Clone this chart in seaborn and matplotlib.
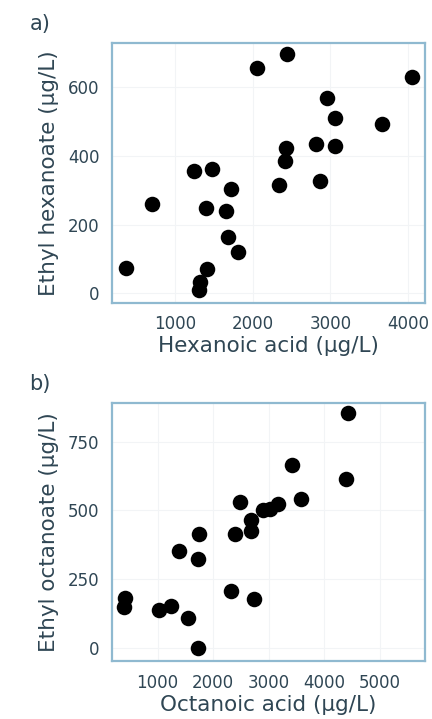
import numpy as np
import pandas as pd
import seaborn as sns
import matplotlib.pyplot as plt

# ---------------- DATA ----------------
hex_acid = [378, 700, 1249, 1481, 1395, 1408, 1330, 1315, 1725, 1657,
            1678, 1815, 2052, 2438, 2335, 2425, 2416, 2815, 2867, 2961,
            3060, 3060, 3670, 4047]
ethyl_hex = [73, 261, 356, 363, 249, 70, 31, 10, 303, 240,
             164, 120, 657, 698, 315, 424, 384, 434, 328, 568,
             512, 428, 493, 629]

oct_acid = [410, 405, 1024, 1251, 1551, 1719, 1383, 1749, 1719, 2317,
            2389, 2479, 2731, 2689, 2689, 2898, 3018, 3168, 3425, 3587,
            4395, 4425]
ethyl_oct = [181, 151, 137, 155, 109, 0, 354, 415, 324, 209,
             415, 532, 178, 466, 427, 502, 504, 522, 665, 541,
             614, 853]

hex_xticks = [1000, 2000, 3000, 4000]
hex_yticks = [0, 200, 400, 600]
oct_xticks = [1000, 2000, 3000, 4000, 5000]
oct_yticks = [0, 250, 500, 750]

df_a = pd.DataFrame({"x": hex_acid, "y": ethyl_hex})
df_b = pd.DataFrame({"x": oct_acid, "y": ethyl_oct})

# ---------------- STYLE ----------------
sns.set_style("white")
plt.rcParams['font.family'] = ['DejaVu Sans']
TEXT = "#2f4654"
SPINE = "#8fb9d0"

fig = plt.figure(figsize=(4.32, 7.19), dpi=100)
ax_a = fig.add_axes([0.259, 0.579, 0.725, 0.361])
ax_b = fig.add_axes([0.259, 0.080, 0.725, 0.360])

panels = [
    (ax_a, df_a, hex_xticks, hex_yticks, (190, 4220), (-28, 729),
     "Hexanoic acid (\u00b5g/L)", "Ethyl hexanoate (\u00b5g/L)", "a)", 0.966),
    (ax_b, df_b, oct_xticks, oct_yticks, (180, 5810), (-48, 891),
     "Octanoic acid (\u00b5g/L)", "Ethyl octanoate (\u00b5g/L)", "b)", 0.466),
]

for ax, d, xt, yt, xl, yl, xlab, ylab, tag, tag_y in panels:
    sns.scatterplot(data=d, x="x", y="y", ax=ax, color="black", s=125,
                    edgecolor="black", linewidth=0, legend=False, zorder=3)
    ax.set_xlim(*xl)
    ax.set_ylim(*yl)
    ax.set_xticks(xt)
    ax.set_yticks(yt)
    ax.grid(True, color="#f2f4f6", linewidth=0.8)
    ax.set_axisbelow(True)
    for sp in ax.spines.values():
        sp.set_color(SPINE)
        sp.set_linewidth(1.6)
    ax.tick_params(axis="both", direction="out", length=6, width=1.5,
                   color="#3a4a55", labelsize=12, labelcolor=TEXT, pad=3)
    ax.set_xlabel(xlab, fontsize=15.5, color=TEXT, labelpad=2)
    ax.set_ylabel(ylab, fontsize=15.5, color=TEXT, labelpad=6)
    fig.text(0.093, tag_y, tag, fontsize=15, color=TEXT,
             ha="center", va="center")

fig.savefig("out.png", dpi=100)
